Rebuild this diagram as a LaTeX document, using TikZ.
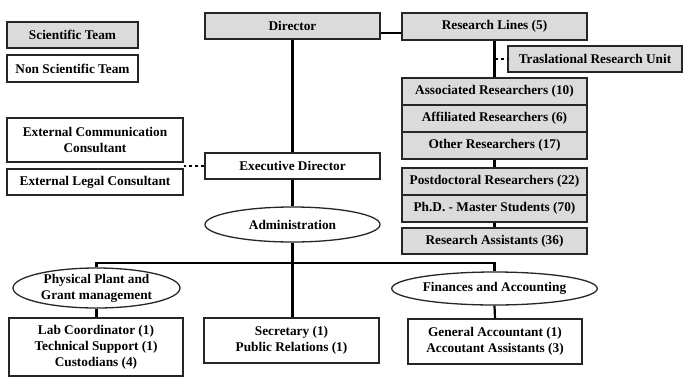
\documentclass[tikz,border=0pt]{standalone}
\usepackage{fontspec}
\setmainfont{Liberation Serif}
\usetikzlibrary{shapes.geometric}
\definecolor{boxgray}{gray}{0.86}
\tikzset{
  base/.style={draw=black!85, line width=1.3pt, inner sep=1pt, align=center,
    font=\bfseries\fontsize{13.3}{16}\selectfont},
  sbox/.style={base, rectangle, fill=boxgray},
  nbox/.style={base, rectangle, fill=white},
  ell/.style={base, ellipse, fill=white},
  conn/.style={draw=black, line width=2.2pt},
  dconn/.style={draw=black, line width=2.2pt, dash pattern=on 3pt off 3pt}
}
\begin{document}
\begin{tikzpicture}[x=1pt,y=-1pt]
\useasboundingbox (0,0) rectangle (683,376);
% legend
\node[sbox, minimum width=131pt, minimum height=26pt] (sci) at (72.5,35) {Scientific Team};
\node[nbox, minimum width=131pt, minimum height=27pt] (nonsci) at (72.5,68.5) {Non Scientific Team};
% top
\node[sbox, minimum width=175pt, minimum height=26pt] (dir) at (292.5,26) {Director};
\node[sbox, minimum width=185pt, minimum height=27pt] (rl) at (494.5,26.5) {Research Lines (5)};
\node[sbox, minimum width=174pt, minimum height=26pt] (tru) at (595,59) {Traslational Research Unit};
% researchers
\node[sbox, minimum width=185pt, minimum height=27pt] (assoc) at (494.5,91.5) {Associated Researchers (10)};
\node[sbox, minimum width=185pt, minimum height=27pt] (affil) at (494.5,118.5) {Affiliated Researchers (6)};
\node[sbox, minimum width=185pt, minimum height=27pt] (other) at (494.5,145.5) {Other Researchers (17)};
\node[sbox, minimum width=185pt, minimum height=27pt] (post) at (494.5,181.5) {Postdoctoral Researchers (22)};
\node[sbox, minimum width=185pt, minimum height=27pt] (phd) at (494.5,208.5) {Ph.D. - Master Students (70)};
\node[sbox, minimum width=185pt, minimum height=26pt] (ra) at (494.5,241) {Research Assistants (36)};
% consultants
\node[nbox, minimum width=176pt, minimum height=44pt] (extcomm) at (95,140) {External Communication\\Consultant};
\node[nbox, minimum width=176pt, minimum height=26pt] (extlegal) at (95,182) {External Legal Consultant};
% executive
\node[nbox, minimum width=175pt, minimum height=26pt] (exec) at (292.5,166) {Executive Director};
\node[ell, minimum width=175pt, minimum height=35pt] (admin) at (292.5,224.5) {Administration};
% departments
\node[ell, minimum width=167pt, minimum height=40pt, inner sep=0pt] (phys) at (96.5,288) {Physical Plant and\\Grant management};
\node[ell, minimum width=175pt, minimum height=33pt] (fin) at (494.5,288.5) {Finances and Accounting};
% staff
\node[nbox, minimum width=174pt, minimum height=58pt] (lab) at (96,347) {Lab Coordinator (1)\\Technical Support (1)\\Custodians (4)};
\node[nbox, minimum width=175pt, minimum height=45pt] (sec) at (291.5,340.5) {Secretary (1)\\Public Relations (1)};
\node[nbox, minimum width=174pt, minimum height=45pt] (gen) at (495,341.5) {General Accountant (1)\\Accoutant Assistants (3)};
% connectors
\draw[conn] (dir.south) -- (exec.north);
\draw[conn] (exec.south) -- (admin.north);
\draw[conn] (admin.south) -- (admin.south |- sec.north);
\draw[conn] (dir.east |- 0,33) -- (rl.west |- 0,33);
\draw[conn] (rl.south) -- (assoc.north);
\draw[dconn] (rl.south |- tru.west) -- (tru.west);
\draw[conn] (other.south) -- (post.north);
\draw[conn] (phd.south) -- (ra.north);
\draw[dconn] (exec.west) -- (exec.west -| extcomm.east);
\coordinate (busL) at (phys.north |- 0,263);
\coordinate (busR) at (fin.north |- 0,263);
\draw[conn] (phys.north) -- (busL) -- (busR) -- (fin.north);
\draw[conn] (phys.south) -- (phys.south |- lab.north);
\draw[conn] (fin.south) -- (gen.north);
\end{tikzpicture}
\end{document}
